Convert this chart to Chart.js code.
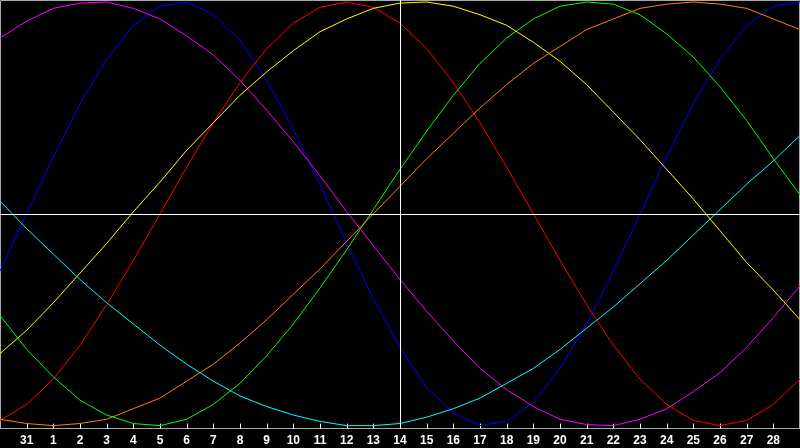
<!DOCTYPE html>
<html>
<head>
<meta charset="utf-8">
<script src="https://cdn.jsdelivr.net/npm/chart.js@4.4.1/dist/chart.umd.min.js"></script>
<style>
  html,body{margin:0;padding:0;background:#000}
  #wrap{width:800px;height:448px}
</style>
</head>
<body>
<div id="wrap"><canvas id="bioChart"></canvas></div>
<script>
// day labels, previous month end -> this month
const days = ['30','31','1','2','3','4','5','6','7','8','9','10','11','12','13','14',
  '15','16','17','18','19','20','21','22','23','24','25','26','27','28','1']

// one value per day
const blue = [-0.27,0,0.27,0.52,0.73,0.89,0.98,1.0,0.94,0.82,0.63,0.4,0.14,-0.14,-0.4,-0.63,
  -0.82,-0.94,-1.0,-0.98,-0.89,-0.73,-0.52,-0.27,0,0.27,0.52,0.73,0.89,0.98,1.0]
const red = [-0.975,-0.9,-0.78,-0.62,-0.43,-0.22,0,0.22,0.43,0.62,0.78,0.9,0.975,1.0,0.975,0.9,
  0.78,0.62,0.43,0.22,0,-0.22,-0.43,-0.62,-0.78,-0.9,-0.975,-1.0,-0.975,-0.9,-0.78]
const green = [-0.48,-0.64,-0.77,-0.88,-0.95,-0.99,-1.0,-0.97,-0.9,-0.8,-0.67,-0.52,-0.35,-0.17,0.02,0.21,
  0.39,0.56,0.71,0.83,0.92,0.98,1.0,0.99,0.94,0.85,0.74,0.6,0.44,0.26,0.09]
const magenta = [0.83,0.91,0.97,0.995,1.0,0.97,0.92,0.84,0.75,0.63,0.49,0.34,0.18,0.01,-0.15,-0.31,
  -0.46,-0.6,-0.73,-0.83,-0.91,-0.97,-0.995,-1.0,-0.97,-0.92,-0.84,-0.75,-0.63,-0.49,-0.34]
const yellow = [-0.66,-0.55,-0.42,-0.28,-0.14,0.01,0.15,0.3,0.43,0.56,0.67,0.77,0.86,0.92,0.97,0.995,
  1.0,0.98,0.94,0.89,0.81,0.72,0.61,0.48,0.35,0.21,0.07,-0.08,-0.23,-0.36,-0.5]
const orange = [-0.97,-0.99,-1.0,-0.99,-0.97,-0.92,-0.87,-0.79,-0.71,-0.61,-0.5,-0.38,-0.26,-0.13,0,0.13,
  0.26,0.38,0.5,0.61,0.71,0.79,0.87,0.92,0.97,0.99,1.0,0.99,0.97,0.92,0.87]
const cyan = [0.06,-0.07,-0.19,-0.31,-0.42,-0.52,-0.62,-0.71,-0.79,-0.86,-0.91,-0.95,-0.98,-1.0,-1.0,-0.99,
  -0.96,-0.92,-0.87,-0.8,-0.73,-0.64,-0.54,-0.44,-0.33,-0.22,-0.1,0.02,0.14,0.25,0.37]

const todayIndex = 15

const frame = {
  id:'frame',
  beforeDatasetsDraw(chart){
    const {ctx, chartArea:a, scales:{x}} = chart
    ctx.save()
    ctx.strokeStyle = '#a8a8a8'
    ctx.lineWidth = 1
    ctx.beginPath()
    ctx.moveTo(a.left+0.5, a.bottom)
    ctx.lineTo(a.left+0.5, a.top+0.5)
    ctx.lineTo(a.right-0.5, a.top+0.5)
    ctx.lineTo(a.right-0.5, a.bottom)
    ctx.stroke()
    ctx.strokeStyle = '#ffffff'
    ctx.beginPath()
    for(let i=1;i<days.length-1;i++){
      const px = Math.round(x.getPixelForValue(i))+0.5
      ctx.moveTo(px, a.bottom-5)
      ctx.lineTo(px, a.bottom)
    }
    ctx.stroke()
    ctx.restore()
  },
  afterDatasetsDraw(chart){
    const {ctx, chartArea:a, scales:{x,y}} = chart
    ctx.save()
    ctx.strokeStyle = '#ffffff'
    ctx.lineWidth = 1
    const py = Math.round(y.getPixelForValue(0))+0.5
    const px = Math.round(x.getPixelForValue(todayIndex))+0.5
    ctx.beginPath()
    ctx.moveTo(a.left, py)
    ctx.lineTo(a.right, py)
    ctx.moveTo(px, a.top)
    ctx.lineTo(px, a.bottom)
    ctx.stroke()
    ctx.restore()
  }
}

const mk = (data,color)=>({
  data:data,
  borderColor:color,
  borderWidth:1,
  pointRadius:0,
  pointHoverRadius:0,
  tension:0,
  fill:false
})

new Chart(document.getElementById('bioChart'), {
  type:'line',
  data:{
    labels:days,
    datasets:[
      mk(cyan,'#00ffff'),
      mk(orange,'#ff8000'),
      mk(yellow,'#ffff00'),
      mk(magenta,'#ff00ff'),
      mk(green,'#00ff00'),
      mk(red,'#ff0000'),
      mk(blue,'#0000ff')
    ]
  },
  options:{
    responsive:true,
    maintainAspectRatio:false,
    animation:false,
    layout:{autoPadding:false, padding:0},
    plugins:{
      legend:{display:false},
      tooltip:{enabled:false}
    },
    scales:{
      x:{
        offset:false,
        grid:{display:true, drawOnChartArea:false, drawTicks:true, tickLength:5, color:'rgba(0,0,0,0)'},
        border:{display:true, color:'#a8a8a8', width:1},
        ticks:{
          color:'#ffffff',
          font:{family:'Liberation Sans', size:12, weight:'bold'},
          padding:0,
          autoSkip:false,
          maxRotation:0,
          callback:(v,i)=> (i===0 || i===days.length-1) ? '' : days[i]
        }
      },
      y:{
        display:false,
        min:-1.014,
        max:1.0095
      }
    }
  },
  plugins:[frame]
})
</script>
</body>
</html>
